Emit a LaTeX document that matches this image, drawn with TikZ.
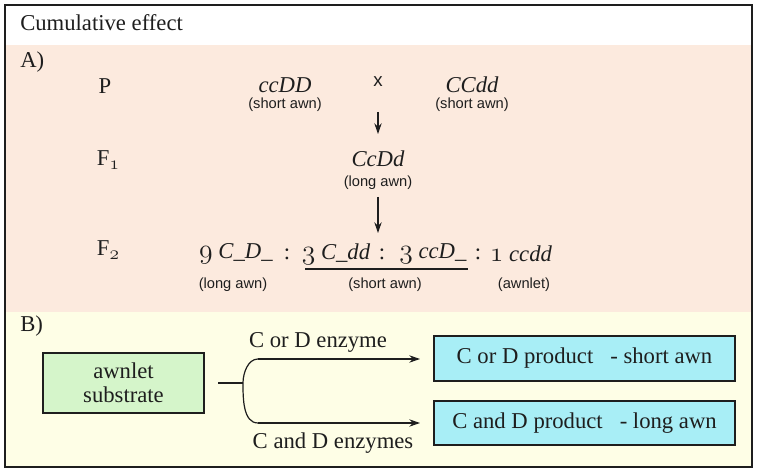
\documentclass[tikz,border=0pt]{standalone}
\usepackage{fontspec}
\setmainfont{Liberation Serif}
\newfontfamily\sansf{Liberation Sans}
\usetikzlibrary{arrows.meta}
\definecolor{peach}{RGB}{252,234,222}
\definecolor{cream}{RGB}{254,254,230}
\definecolor{boxgreen}{RGB}{213,245,202}
\definecolor{boxcyan}{RGB}{168,238,246}
\definecolor{ink}{RGB}{30,30,30}
\newcommand{\osn}[1]{{\fontsize{21}{21}\usefont{OML}{cmm}{m}{it}#1}}
\newcommand{\subn}[1]{\raisebox{-3pt}{\fontsize{15}{15}\usefont{OML}{cmm}{m}{it}#1}}
\tikzset{
  lbl/.style={inner sep=0pt, font=\fontsize{17}{19}\selectfont, text=ink},
  sub/.style={inner sep=0pt, font=\sansf\fontsize{11}{13}\selectfont, text=ink},
  gbox/.style={draw=ink, line width=1pt, fill=boxgreen, align=center, font=\fontsize{17}{18}\selectfont, text=ink},
  cbox/.style={draw=ink, line width=1pt, fill=boxcyan, font=\fontsize{17}{19}\selectfont, text=ink},
  arr/.style={draw=ink, line width=0.9pt, -{Stealth[length=8pt,width=5.5pt]}},
  ln/.style={draw=ink, line width=0.9pt}
}
\begin{document}
\begin{tikzpicture}[x=0.75pt,y=-0.75pt]
\useasboundingbox (0,0) rectangle (758,473);
% backgrounds
\fill[white] (5,5) rectangle (752,45);
\fill[peach] (5,45) rectangle (752,312);
\fill[cream] (5,312) rectangle (752,467);
\draw[draw=ink, line width=1.1pt] (5,5) rectangle (752,467);
% title
\node[lbl, anchor=west] (title) at (20,23) {Cumulative effect};
\node[lbl, anchor=west] (A) at (20,62) {A)};
\node[lbl, anchor=west] (B) at (20,326) {B)};
% P row
\node[lbl] (P) at (105,86) {P};
\node[lbl] (p1) at (285,85) {\textit{ccDD}};
\node[sub] (p1s) at (285,105) {(short awn)};
\node[sub, font=\sansf\fontsize{14}{14}\selectfont] (cross) at (378,82) {x};
\node[lbl] (p2) at (472,85) {\textit{CCdd}};
\node[sub] (p2s) at (472,105) {(short awn)};
% F1
\node[lbl] (F1) at (108,160) {F\subn{1}};
\node[lbl] (f1) at (378,159) {\textit{CcDd}};
\node[sub] (f1s) at (378,183) {(long awn)};
% F2
\node[lbl] (F2) at (108,250) {F\subn{2}};
\node[lbl] (g1) at (236,254) {\osn{9} \textit{C\_D\_}};
\node[lbl] (c1) at (287,254) {:};
\node[lbl] (g2) at (336,254) {\osn{3} \textit{C\_dd}};
\node[lbl] (c2) at (382,254) {:};
\node[lbl] (g3) at (433,254) {\osn{3} \textit{ccD\_}};
\node[lbl] (c3) at (478,254) {:};
\node[lbl] (g4) at (521,254) {\osn{1} \textit{ccdd}};
\node[sub] (g1s) at (233,285) {(long awn)};
\node[sub] (g23s) at (385,285) {(short awn)};
\node[sub] (g4s) at (524,285) {(awnlet)};
\coordinate (ulA) at (305,269);
\coordinate (ulB) at (468,269);
\draw[ln] (ulA) -- (ulB);
% arrows
\coordinate (a1s) at (378,112);
\coordinate (a1e) at (378,134);
\coordinate (a2s) at (378,197);
\coordinate (a2e) at (378,233);
\draw[arr] (a1s) -- (a1e);
\draw[arr] (a2s) -- (a2e);
% B section
\node[gbox, minimum width=161*0.75pt, minimum height=60*0.75pt] (sub) at (123.5,383) {awnlet\\substrate};
\node[cbox, minimum width=301*0.75pt, minimum height=45*0.75pt] (prod1) at (584.5,358.5) {C or D product \ \ - short awn};
\node[cbox, minimum width=301*0.75pt, minimum height=44*0.75pt] (prod2) at (584.5,423) {C and D product \ \ - long awn};
\coordinate (j) at (243,383);
\coordinate (bu) at (258,359);
\coordinate (bd) at (258,423);
\coordinate (tu) at (420,359);
\coordinate (td) at (420,423);
\draw[ln] (218,383) -- (j);
\draw[ln] (bu) to[out=180,in=90,looseness=0.9] (j) to[out=-90,in=180,looseness=0.9] (bd);
\draw[arr] (bu) -- (tu);
\draw[arr] (bd) -- (td);
\node[lbl] (e1) at (318,342) {C or D enzyme};
\node[lbl] (e2) at (333,443) {C and D enzymes};
\end{tikzpicture}
\end{document}
